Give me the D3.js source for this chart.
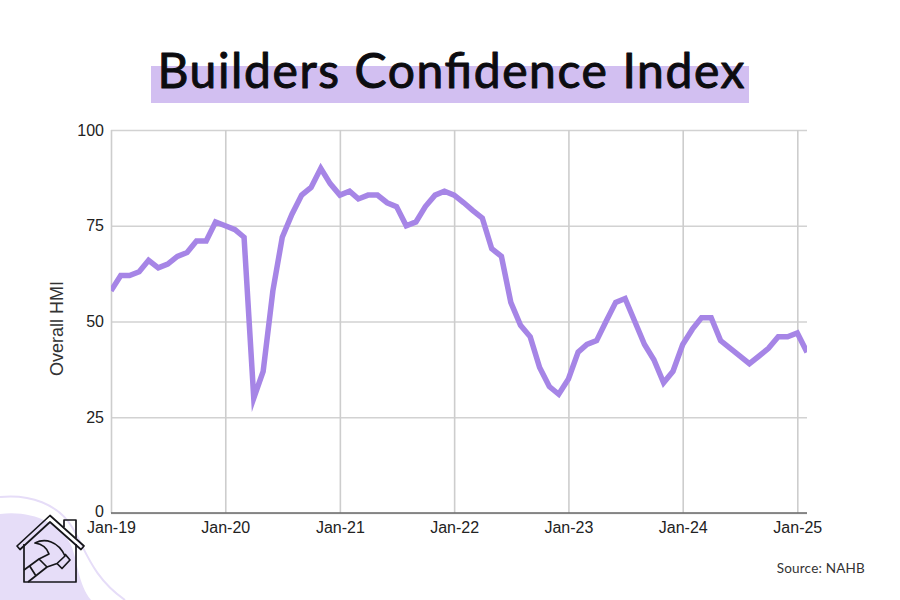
<!DOCTYPE html>
<html>
<head>
<meta charset="utf-8">
<script src="https://cdn.jsdelivr.net/npm/d3@7"></script>
<style>
  html, body { margin: 0; padding: 0; background: #fff; }
  svg { display: block; }
  .tick text { font-family: "Liberation Sans", Arial, sans-serif; font-size: 16px; fill: #222; }
</style>
</head>
<body>
<svg id="chart"></svg>
<script>
const startYear = 2019;
const hmiValues = [
  58, 62, 62, 63, 66, 64, 65, 67, 68, 71, 71, 76,
  75, 74, 72, 30, 37, 58, 72, 78, 83, 85, 90, 86,
  83, 84, 82, 83, 83, 81, 80, 75, 76, 80, 83, 84,
  83, 81, 79, 77, 69, 67, 55, 49, 46, 38, 33, 31,
  35, 42, 44, 45, 50, 55, 56, 50, 44, 40, 34, 37,
  44, 48, 51, 51, 45, 43, 41, 39, 41, 43, 46, 46,
  47, 42
];
const yTicks = [0, 25, 50, 75, 100];
const xTickYears = [2019, 2020, 2021, 2022, 2023, 2024, 2025];

const width = 900;
const height = 600;
const margin = { top: 130, right: 93, bottom: 87, left: 111 };
const purple = "#a685e6";

const months = hmiValues.map((d, i) => new Date(startYear, i, 1));
const xTicks = xTickYears.map(y => new Date(y, 0, 1));
const fmt = d3.timeFormat("%b-%y");

const svg = d3.select("#chart")
  .attr("width", width)
  .attr("height", height);

// background curves, bottom left corner
svg.append("path")
  .attr("d", "M0,497 C30,494 58,504 72,527 C86,550 92,577 125,600")
  .attr("fill", "none")
  .attr("stroke", "#e6ddf8")
  .attr("stroke-width", 2);
svg.append("path")
  .attr("d", "M0,514 C30,510 60,522 71,545 C78,562 78,584 91,600 L0,600 Z")
  .attr("fill", "#e6ddf8");

// title
svg.append("rect")
  .attr("x", 151)
  .attr("y", 66)
  .attr("width", 598)
  .attr("height", 37)
  .attr("fill", "#d2bff1");
svg.append("text")
  .attr("x", 451)
  .attr("y", 88)
  .attr("text-anchor", "middle")
  .attr("font-family", "Lato, sans-serif")
  .attr("font-weight", 400)
  .attr("font-size", 48)
  .attr("fill", "#0c0c10")
  .attr("stroke", "#0c0c10")
  .attr("stroke-width", 1)
  .attr("stroke-linejoin", "round")
  .attr("textLength", 587)
  .attr("lengthAdjust", "spacing")
  .text("Builders Confidence Index");

const x = d3.scaleTime()
  .domain(d3.extent(months))
  .range([margin.left, width - margin.right]);

const y = d3.scaleLinear()
  .domain([0, 100])
  .range([height - margin.bottom, margin.top]);

// horizontal grid + labels
const yAxis = svg.append("g")
  .attr("transform", `translate(${margin.left},0)`)
  .call(d3.axisLeft(y)
    .tickValues(yTicks)
    .tickSize(-(width - margin.right - margin.left))
    .tickPadding(7));
yAxis.select(".domain").remove();
yAxis.selectAll("line")
  .attr("stroke", "#d2d2d2")
  .attr("stroke-width", 1.6);
// the zero label sits a little above the axis line
yAxis.selectAll("text")
  .attr("dy", "0.32em")
  .attr("y", d => d === 0 ? -2 : 0);

// vertical grid + labels
const xAxis = svg.append("g")
  .attr("transform", `translate(0,${height - margin.bottom})`)
  .call(d3.axisBottom(x)
    .tickValues(xTicks)
    .tickFormat(fmt)
    .tickSize(-(height - margin.top - margin.bottom))
    .tickPadding(9));
xAxis.select(".domain").remove();
xAxis.selectAll("line")
  .attr("stroke", "#cdcdcd")
  .attr("stroke-width", 1.6);

// base line
svg.append("line")
  .attr("x1", margin.left)
  .attr("x2", width - margin.right)
  .attr("y1", y(0))
  .attr("y2", y(0))
  .attr("stroke", "#6a6a6a")
  .attr("stroke-width", 1.4);

const line = d3.line()
  .x((d, i) => x(months[i]))
  .y(d => y(d));

svg.append("clipPath")
  .attr("id", "plot")
  .append("rect")
  .attr("x", margin.left)
  .attr("y", margin.top)
  .attr("width", width - margin.left - margin.right)
  .attr("height", height - margin.top - margin.bottom);

svg.append("path")
  .datum(hmiValues)
  .attr("clip-path", "url(#plot)")
  .attr("fill", "none")
  .attr("stroke", purple)
  .attr("stroke-width", 5.5)
  .attr("stroke-linejoin", "miter")
  .attr("stroke-miterlimit", 12)
  .attr("d", line);

// y axis title
svg.append("text")
  .attr("transform", "translate(63,328.5) rotate(-90)")
  .attr("text-anchor", "middle")
  .attr("font-family", "'Liberation Sans', Arial, sans-serif")
  .attr("font-size", 18)
  .attr("fill", "#333")
  .text("Overall HMI");

// source
svg.append("text")
  .attr("x", 865)
  .attr("y", 573)
  .attr("text-anchor", "end")
  .attr("font-family", "Lato, sans-serif")
  .attr("font-size", 13.5)
  .attr("letter-spacing", 0.2)
  .attr("fill", "#333")
  .text("Source: NAHB");

// house + hammer icon
const icon = svg.append("g")
  .attr("fill", "none")
  .attr("stroke", "#16161a")
  .attr("stroke-width", 1.7)
  .attr("stroke-linejoin", "round");
icon.append("path").attr("d", "M17,546 L50,515.5 L84,546 L81,549.5 L50,522 L20,549.5 Z");
icon.append("path").attr("d", "M24,544 V582 H76 V544");
icon.append("path").attr("d", "M64,527 V520 H76 V538");
// hammer head and claw
icon.append("path").attr("d", "M35,543 C45,538 58,541 65,556 L57,563.5 L47,567 L39,559 L49,554 C47,548 42,544 35,543 Z");
// striking face
icon.append("path").attr("d", "M65,554 L70,560 L62,568.5 L57,563.5");
// handle
icon.append("path").attr("d", "M39,559 L24,570 M47,567 L28,582 M30,566.5 L36,576");
</script>
</body>
</html>
